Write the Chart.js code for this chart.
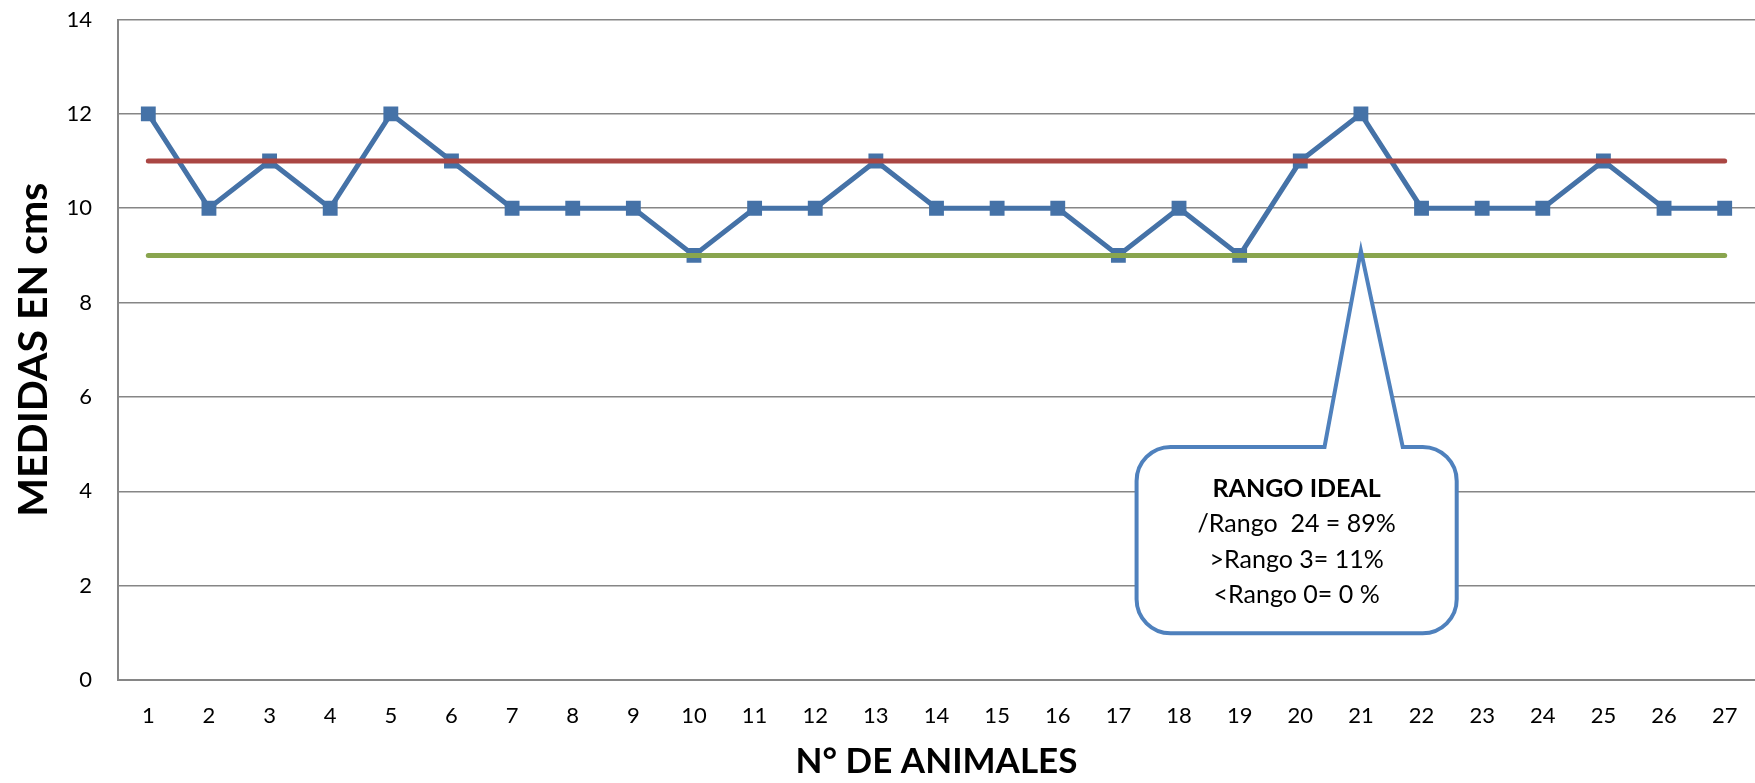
<!DOCTYPE html>
<html>
<head>
<meta charset="utf-8">
<script src="https://cdn.jsdelivr.net/npm/chart.js@4/dist/chart.umd.min.js"></script>
<style>
  html, body { margin: 0; padding: 0; background: #fff; }
  #wrap { width: 1755px; height: 783px; }
</style>
</head>
<body>
<div id="wrap"><canvas id="medidasChart" width="1755" height="783"></canvas></div>
<script>
const animales = ["1","2","3","4","5","6","7","8","9","10","11","12","13","14","15","16","17","18","19","20","21","22","23","24","25","26","27"];
const medidas = [12,10,11,10,12,11,10,10,10,9,10,10,11,10,10,10,9,10,9,11,12,10,10,10,11,10,10];
const limiteSuperior = animales.map(() => 11);
const limiteInferior = animales.map(() => 9);
const yTicks = [0, 2, 4, 6, 8, 10, 12, 14];

// callout text and where it sits, in data units (category index / cm)
const calloutLines = ["RANGO IDEAL", "/Rango  24 = 89%", ">Rango 3= 11%", "<Rango 0= 0 %"];
const calloutBox = { x0: 16.3, x1: 21.58, yTop: 4.94, yBottom: 0.99 };
const calloutPointer = { baseLeft: 19.4, baseRight: 20.69, tipX: 20, tipY: 9.1 };

const FONT = "Lato, Carlito, Calibri, 'DejaVu Sans', sans-serif";

const calloutPlugin = {
    id: "callout",
    afterDraw(chart) {
        const { ctx, scales: { x, y } } = chart;
        const left = x.getPixelForValue(calloutBox.x0);
        const right = x.getPixelForValue(calloutBox.x1);
        const top = y.getPixelForValue(calloutBox.yTop);
        const bottom = y.getPixelForValue(calloutBox.yBottom);
        const pl = x.getPixelForValue(calloutPointer.baseLeft);
        const pr = x.getPixelForValue(calloutPointer.baseRight);
        const tx = x.getPixelForValue(calloutPointer.tipX);
        const ty = y.getPixelForValue(calloutPointer.tipY);
        const r = 34;

        ctx.save();
        ctx.beginPath();
        ctx.moveTo(left + r, top);
        ctx.lineTo(pl, top);
        ctx.lineTo(tx, ty);
        ctx.lineTo(pr, top);
        ctx.lineTo(right - r, top);
        ctx.arcTo(right, top, right, top + r, r);
        ctx.lineTo(right, bottom - r);
        ctx.arcTo(right, bottom, right - r, bottom, r);
        ctx.lineTo(left + r, bottom);
        ctx.arcTo(left, bottom, left, bottom - r, r);
        ctx.lineTo(left, top + r);
        ctx.arcTo(left, top, left + r, top, r);
        ctx.closePath();
        ctx.fillStyle = "#ffffff";
        ctx.fill();
        ctx.lineWidth = 4;
        ctx.strokeStyle = "#4F81BD";
        ctx.stroke();

        ctx.fillStyle = "#000";
        ctx.textAlign = "center";
        ctx.textBaseline = "middle";
        const cx = (left + right) / 2;
        const lineGap = 35.6;
        const firstY = top + 41.5;
        calloutLines.forEach((line, i) => {
            ctx.font = (i === 0 ? "bold " : "") + "25px " + FONT;
            ctx.fillText(line, cx, firstY + i * lineGap);
        });
        ctx.restore();
    }
};

document.addEventListener("DOMContentLoaded", () => {
    const ctx = document.getElementById("medidasChart").getContext("2d");

    new Chart(ctx, {
        type: "line",
        data: {
            labels: animales,
            datasets: [
                {
                    label: "Medidas",
                    data: medidas,
                    borderColor: "#4572A7",
                    backgroundColor: "#4572A7",
                    borderWidth: 5,
                    pointStyle: "rect",
                    pointRadius: 10.5,
                    pointBorderWidth: 0,
                    tension: 0,
                    order: 3
                },
                {
                    label: "Superior",
                    data: limiteSuperior,
                    borderColor: "#AA4643",
                    borderWidth: 5,
                    borderCapStyle: "round",
                    pointRadius: 0,
                    order: 1
                },
                {
                    label: "Inferior",
                    data: limiteInferior,
                    borderColor: "#89A54E",
                    borderWidth: 5,
                    borderCapStyle: "round",
                    pointRadius: 0,
                    order: 2
                }
            ]
        },
        options: {
            responsive: false,
            animation: false,
            layout: { padding: 0, autoPadding: false },
            plugins: {
                legend: { display: false },
                tooltip: { enabled: false }
            },
            scales: {
                x: {
                    offset: true,
                    grid: { display: false, drawTicks: false },
                    border: { display: true, color: "#868686", width: 2 },
                    ticks: { color: "#000", font: { family: FONT, size: 22 }, padding: 23, maxRotation: 0, autoSkip: false },
                    title: {
                        display: true,
                        text: "N° DE ANIMALES",
                        color: "#000",
                        font: { family: FONT, size: 35, weight: "bold" },
                        padding: { top: 0, bottom: 0 }
                    },
                    afterFit(scale) {
                        scale.height = 103;
                        scale.paddingLeft = 0;
                        scale.paddingRight = 0;
                    }
                },
                y: {
                    min: 0,
                    max: 14,
                    afterBuildTicks(scale) { scale.ticks = yTicks.map(v => ({ value: v })); },
                    grid: { color: "#868686", lineWidth: 1.5, drawTicks: false },
                    border: { display: true, color: "#868686", width: 2 },
                    ticks: { color: "#000", font: { family: FONT, size: 22 }, padding: 26 },
                    title: {
                        display: true,
                        text: "MEDIDAS EN cms",
                        color: "#000",
                        font: { family: FONT, size: 41, weight: "bold" },
                        padding: { top: 9, bottom: 0 }
                    },
                    afterFit(scale) {
                        scale.width = 118;
                        scale.paddingTop = 19.5;
                        scale.paddingBottom = 0;
                    }
                }
            }
        },
        plugins: [calloutPlugin]
    });
});
</script>
</body>
</html>
